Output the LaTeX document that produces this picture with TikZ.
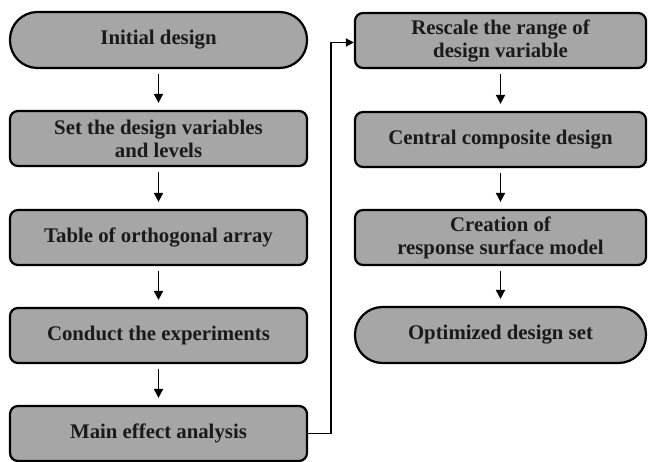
\documentclass[tikz,border=0pt]{standalone}
\usepackage{fontspec}
\setmainfont{Liberation Serif}
\usetikzlibrary{arrows.meta}
\definecolor{boxgray}{HTML}{A6A6A6}
\definecolor{txt}{HTML}{1A1A1A}
\begin{document}
\begin{tikzpicture}[x=1pt,y=1pt,
  base/.style={draw=black, line width=2.2pt, fill=boxgray, align=center,
    font=\fontsize{20.8}{23}\selectfont\bfseries, text=txt, inner sep=0pt},
  leftbox/.style={base, minimum width=297pt, minimum height=55pt, rounded corners=8pt},
  rightbox/.style={base, minimum width=291pt, minimum height=55pt, rounded corners=8pt},
  leftterm/.style={base, minimum width=297pt, minimum height=56pt, rounded corners=27.5pt},
  rightterm/.style={base, minimum width=291pt, minimum height=56pt, rounded corners=27.5pt},
  flow/.style={line width=1.7pt, -{Triangle[length=9pt,width=9pt]}},
]
\useasboundingbox (0,0) rectangle (648,-462);
\node[leftterm] (a) at (158.5,-40) {Initial design};
\node[leftbox] (b) at (158.5,-138.5) {Set the design variables\\and levels};
\node[leftbox] (c) at (158.5,-237.5) {Table of orthogonal array};
\node[leftbox] (d) at (158.5,-335.5) {Conduct the experiments};
\node[leftbox] (e) at (158.5,-433.5) {Main effect analysis};
\node[rightbox] (f) at (500.5,-40.5) {Rescale the range of\\design variable};
\node[rightbox] (g) at (500.5,-139.5) {Central composite design};
\node[rightbox] (h) at (500.5,-237.5) {Creation of\\response surface model};
\node[rightterm] (i) at (500.5,-335) {Optimized design set};
\foreach \s/\t in {a/b,b/c,c/d,d/e,f/g,g/h,h/i}
  \draw[flow] ([yshift=-5pt]\s.south) -- ([yshift=7pt]\t.north);
\draw[line width=1.5pt, -{Triangle[length=8pt,width=8pt]}] (e.east) -- ++(23,0) |- ([yshift=-2pt]f.west);
\end{tikzpicture}
\end{document}
